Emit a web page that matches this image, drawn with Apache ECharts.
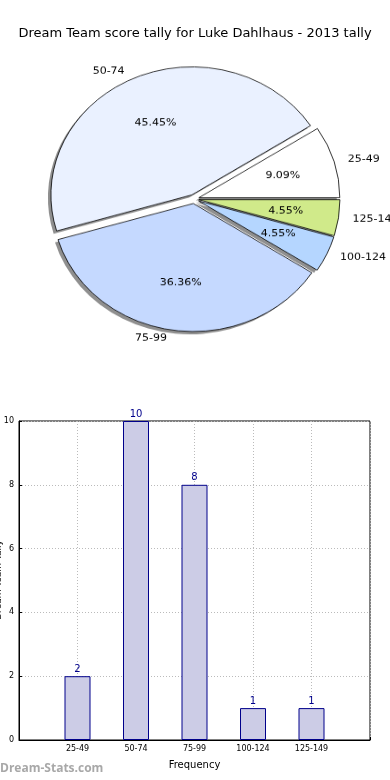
<!DOCTYPE html>
<html>
<head>
<meta charset="utf-8">
<script src="https://cdn.jsdelivr.net/npm/echarts@6/dist/echarts.min.js"></script>
<style>
html,body{margin:0;padding:0;background:#fff;}
#wrap{position:relative;width:390px;height:780px;overflow:hidden;}
#c{position:absolute;left:0;top:0;width:390px;height:780px;}
#p{position:absolute;left:0;top:0;width:390px;height:400px;transform:scaleY(0.908);transform-origin:194px 199px;}
</style>
</head>
<body>
<div id="wrap"><div id="c"></div><div id="p"></div></div>
<script>
const titleText = 'Dream Team score tally for Luke Dahlhaus - 2013 tally';
const categories = ['25-49', '50-74', '75-99', '100-124', '125-149'];
const counts = [2, 10, 8, 1, 1];
const pieColors = ['#ffffff', '#eaf1ff', '#c5d9ff', '#b5d6ff', '#d0ea8a'];
const yTicks = [0, 2, 4, 6, 8, 10];
const xAxisName = 'Frequency';
const yAxisName = 'Dream Team Tally';
const watermark = 'Dream-Stats.com';

const total = counts.reduce((a, b) => a + b, 0);
const FONT = 'DejaVu Sans';
const cx = 194, cy = 199, R = 141;

function pieData(withColor) {
  return categories.map((c, i) => ({
    name: c, value: counts[i], selected: true,
    itemStyle: withColor ? { color: pieColors[i] } : undefined
  }));
}

const common = {
  type: 'pie', startAngle: 0, clockwise: false, center: [cx, cy],
  selectedMode: 'multiple', selectedOffset: 5, animation: false,
  emphasis: { disabled: true }, silent: true, avoidLabelOverlap: false
};

const chart = echarts.init(document.getElementById('c'));
chart.setOption({
  backgroundColor: '#fff',
  title: {
    text: titleText, left: 'center', top: 22,
    textStyle: { fontFamily: FONT, fontSize: 13, fontWeight: 'normal', color: '#000' }
  },
  graphic: [{
    type: 'text', left: 0, top: 763,
    style: { text: watermark, fill: '#a8a8a8', font: 'bold 12px "Open Sans"' }
  }, {
    type: 'text', x: -1, y: 580, rotation: Math.PI / 2,
    style: { text: yAxisName, fill: '#000', font: '9px "DejaVu Sans"', align: 'center', verticalAlign: 'middle' }
  }],
  grid: {
    left: 19, right: 20, top: 421, bottom: 40, show: true, containLabel: false,
    outerBoundsMode: 'none',
    borderColor: '#000', borderWidth: 1, backgroundColor: 'transparent'
  },
  xAxis: {
    type: 'category', boundaryGap: false,
    data: [''].concat(categories, ['']),
    name: xAxisName, nameLocation: 'middle', nameGap: 20, nameMoveOverlap: false,
    nameTextStyle: { fontFamily: FONT, fontSize: 10, color: '#000' },
    axisLine: { lineStyle: { color: '#000' } },
    axisTick: { show: true, inside: true, length: 3, lineStyle: { color: '#000' } },
    axisLabel: { fontFamily: FONT, fontSize: 8, color: '#000', margin: 5, interval: 0 },
    splitLine: { show: true, lineStyle: { color: '#bbb', type: [1, 2], width: 1 } }
  },
  yAxis: {
    type: 'value', min: yTicks[0], max: yTicks[yTicks.length - 1], interval: yTicks[1] - yTicks[0],
    axisLine: { show: true, lineStyle: { color: '#000' } },
    axisTick: { show: true, inside: true, length: 3, lineStyle: { color: '#000' } },
    axisLabel: { fontFamily: FONT, fontSize: 8, color: '#000', margin: 5 },
    splitLine: { show: true, lineStyle: { color: '#bbb', type: [1, 2], width: 1 } }
  },
  series: [
    {
      type: 'bar', animation: false, barWidth: 26, z: 4,
      data: ['-'].concat(counts, ['-']),
      itemStyle: { color: '#ccccE6', borderColor: '#00008b', borderWidth: 1 },
      label: { show: true, position: 'top', distance: 2, fontFamily: FONT, fontSize: 10, color: '#00008b' },
      emphasis: { disabled: true }
    }
  ]
});

const pie = echarts.init(document.getElementById('p'));
pie.setOption({
  backgroundColor: 'transparent',
  series: [
    Object.assign({}, common, {
      name: 'shadow', center: [cx - 3, cy + 3], radius: R, z: 1,
      data: pieData(false),
      itemStyle: { color: '#8f8f8f', borderWidth: 0 },
      label: { show: false }, labelLine: { show: false }
    }),
    Object.assign({}, common, {
      name: 'pie', radius: R, z: 2,
      data: pieData(true),
      itemStyle: { borderColor: '#000', borderWidth: 0.8 },
      label: {
        show: true, position: 'outside', fontFamily: FONT, fontSize: 11, color: '#000',
        formatter: '{b}'
      },
      labelLine: { show: false, length: 9, length2: 0 }
    }),
    Object.assign({}, common, {
      name: 'pct', radius: [R * 0.2, R], z: 3,
      data: pieData(false),
      itemStyle: { color: 'rgba(0,0,0,0)', borderWidth: 0 },
      label: {
        show: true, position: 'inside', fontFamily: FONT, fontSize: 11, color: '#000',
        formatter: p => (p.value / total * 100).toFixed(2) + '%'
      },
      labelLine: { show: false }
    })
  ]
});
</script>
</body>
</html>
